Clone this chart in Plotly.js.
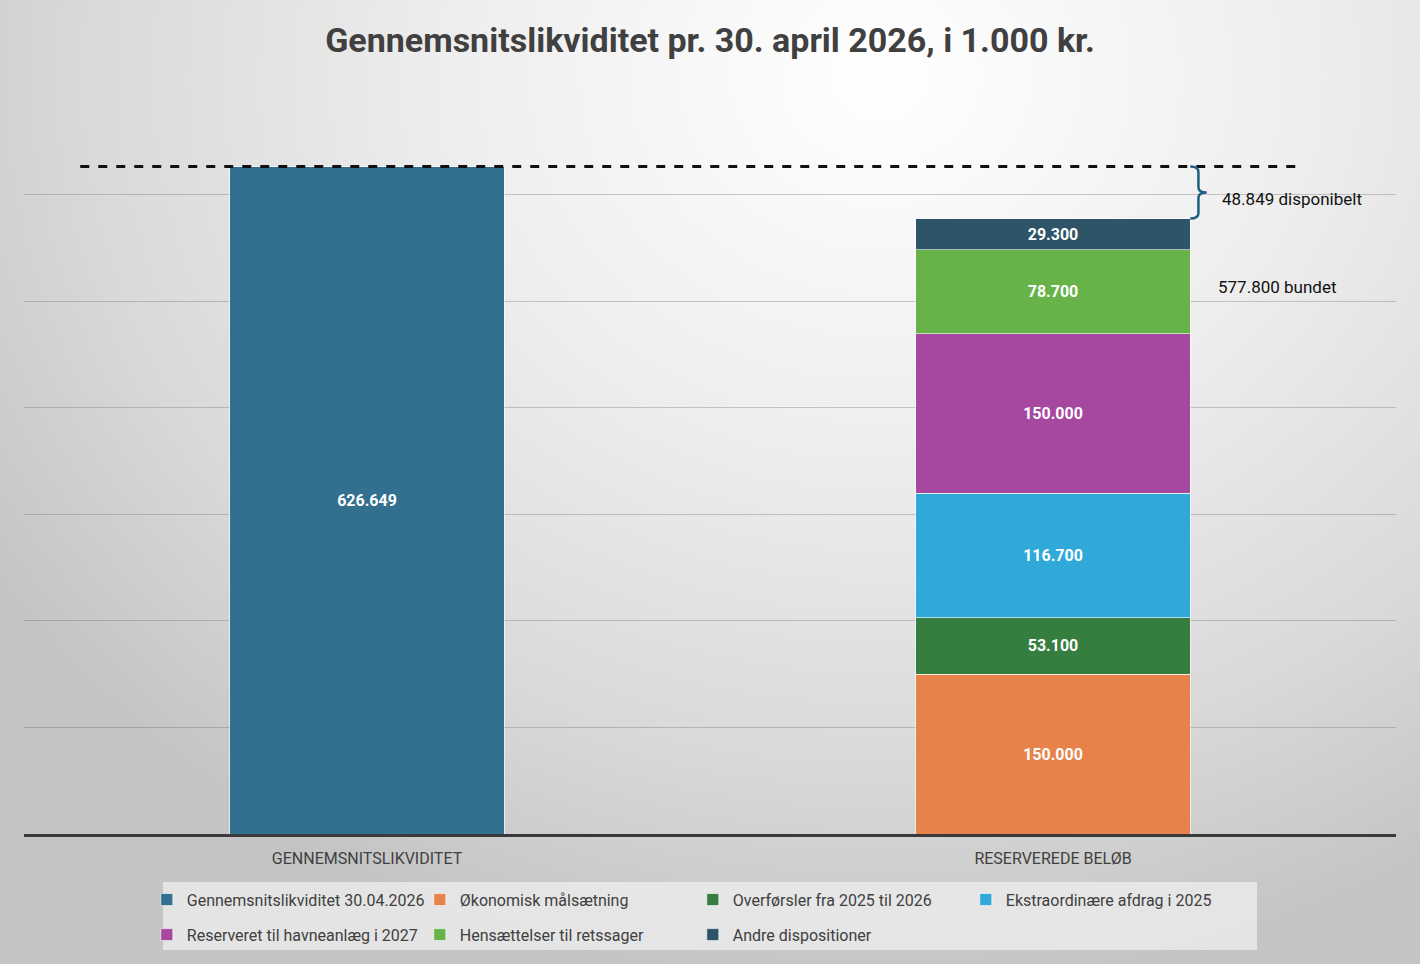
<!DOCTYPE html>
<html>
<head>
<meta charset="utf-8">
<script src="https://cdn.plot.ly/plotly-3.0.1.min.js"></script>
<style>
  html, body { margin: 0; padding: 0; }
  body {
    width: 1420px; height: 964px; overflow: hidden;
    background: radial-gradient(ellipse 75% 95% at 62% 8%, #ffffff 0%, #eeeeee 40%, #d9d9d9 75%, #c4c4c4 100%);
  }
  #chart { width: 1420px; height: 964px; }
</style>
</head>
<body>
<div id="chart"></div>
<script>
var categories = ['GENNEMSNITSLIKVIDITET', 'RESERVEREDE BELØB'];

var seriesNames = [
  'Gennemsnitslikviditet 30.04.2026',
  'Økonomisk målsætning',
  'Overførsler fra 2025 til 2026',
  'Ekstraordinære afdrag i 2025',
  'Reserveret til havneanlæg i 2027',
  'Hensættelser til retssager',
  'Andre dispositioner'
];

var likviditet = 626649;
var reserveret = [150000, 53100, 116700, 150000, 78700, 29300];

var colors = ['#33708f', '#e8824b', '#367e3f', '#30a9d9', '#a748a0', '#67b34a', '#2e5468'];

var font = 'Roboto, sans-serif';

var data = [];
data.push({
  type: 'bar',
  x: [categories[0]],
  y: [likviditet],
  name: seriesNames[0],
  legend: 'legend',
  marker: { color: colors[0], line: { color: 'rgba(255,255,255,0.6)', width: 1 } },
  texttemplate: '%{y:,.0f}',
  textposition: 'inside',
  insidetextanchor: 'middle',
  textangle: 0,
  textfont: { family: font, size: 16, color: '#ffffff', weight: 'bold' },
  hoverinfo: 'skip'
});
for (var i = 0; i < reserveret.length; i++) {
  data.push({
    type: 'bar',
    x: [categories[1]],
    y: [reserveret[i]],
    name: seriesNames[i + 1],
    // first row of the legend holds four entries, the rest go to the second
    legend: (i + 1) < 4 ? 'legend' : 'legend2',
    marker: { color: colors[i + 1], line: { color: 'rgba(255,255,255,0.6)', width: 1 } },
    texttemplate: '%{y:,.0f}',
    textposition: 'inside',
    insidetextanchor: 'middle',
    textangle: 0,
    textfont: { family: font, size: 16, color: '#ffffff', weight: 'bold' },
    hoverinfo: 'skip'
  });
}

var bundet = reserveret.reduce(function (a, b) { return a + b; }, 0);
var disponibelt = likviditet - bundet;
var fmt = function (v) { return v.toString().replace(/\B(?=(\d{3})+(?!\d))/g, '.'); };

// curly brace between total and reserved top
var bx0 = 0.850, bx1 = 0.856, bx2 = 0.862, d = 5000;
var mid = (likviditet + bundet) / 2;
var bracePath = 'M ' + bx0 + ',' + likviditet +
  ' Q ' + bx1 + ',' + likviditet + ' ' + bx1 + ',' + (likviditet - d) +
  ' L ' + bx1 + ',' + (mid + d) +
  ' Q ' + bx1 + ',' + mid + ' ' + bx2 + ',' + mid +
  ' Q ' + bx1 + ',' + mid + ' ' + bx1 + ',' + (mid - d) +
  ' L ' + bx1 + ',' + (bundet + d) +
  ' Q ' + bx1 + ',' + bundet + ' ' + bx0 + ',' + bundet;

var legendBase = {
  orientation: 'h',
  xref: 'paper', yref: 'paper',
  x: 0.0895, xanchor: 'left',
  yanchor: 'middle',
  entrywidth: 228, entrywidthmode: 'pixels',
  bgcolor: 'rgba(0,0,0,0)',
  font: { family: font, size: 16, color: '#404040' },
  traceorder: 'normal',
  itemclick: false, itemdoubleclick: false
};
var legend1 = Object.assign({}, legendBase, { y: -0.088 });
var legend2 = Object.assign({}, legendBase, { y: -0.135 });

var layout = {
  width: 1420,
  height: 964,
  paper_bgcolor: 'rgba(0,0,0,0)',
  plot_bgcolor: 'rgba(0,0,0,0)',
  separators: ',.',
  margin: { l: 24, r: 24, t: 88, b: 130, autoexpand: false },
  barmode: 'stack',
  bargap: 0.6,
  showlegend: true,
  title: {
    text: 'Gennemsnitslikviditet pr. 30. april 2026, i 1.000 kr.',
    x: 0.5, xanchor: 'center', y: 0.958, yanchor: 'middle',
    font: { family: font, size: 34, color: '#404040', weight: 'bold' }
  },
  xaxis: {
    type: 'category',
    range: [-0.5, 1.5],
    showline: true, linecolor: '#3a3a3a', linewidth: 2.5,
    showgrid: false, ticks: '',
    ticklabelstandoff: 8,
    tickfont: { family: font, size: 16, color: '#404040' }
  },
  yaxis: {
    range: [0, 700400],
    dtick: 100000,
    showticklabels: false,
    gridcolor: 'rgba(110,110,110,0.35)', gridwidth: 1,
    zeroline: false
  },
  legend: legend1,
  legend2: legend2,
  shapes: [
    {
      type: 'rect', xref: 'paper', yref: 'paper', layer: 'below',
      x0: 0.1013, x1: 0.8987, y0: -0.0643, y1: -0.1555,
      fillcolor: 'rgba(236,236,236,0.8)', line: { width: 0 }
    },
    {
      type: 'line', xref: 'paper', yref: 'y',
      x0: 0.041, x1: 0.928, y0: likviditet, y1: likviditet,
      line: { color: '#111111', width: 3, dash: 'dash' }
    },
    {
      type: 'path', xref: 'paper', yref: 'y',
      path: bracePath,
      line: { color: '#1f5f80', width: 2.5 }
    }
  ],
  annotations: [
    {
      xref: 'paper', yref: 'y', x: 0.872, y: mid - 6500, xanchor: 'left', yanchor: 'middle',
      text: fmt(disponibelt) + ' disponibelt', showarrow: false,
      font: { family: font, size: 17, color: '#111111' }
    },
    {
      xref: 'paper', yref: 'y', x: 0.869, y: bundet - 64500, xanchor: 'left', yanchor: 'middle',
      text: fmt(bundet) + ' bundet', showarrow: false,
      font: { family: font, size: 17, color: '#111111' }
    }
  ]
};

Plotly.newPlot('chart', data, layout, { displayModeBar: false });
</script>
</body>
</html>
